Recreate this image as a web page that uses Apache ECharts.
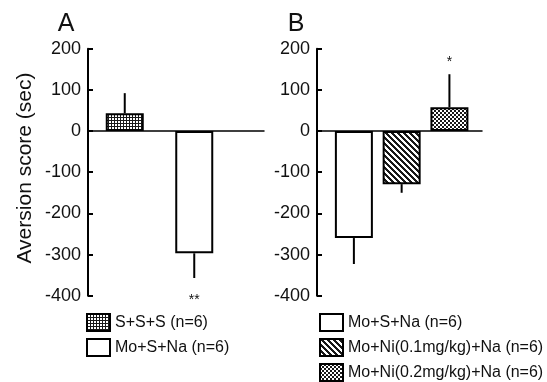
<!DOCTYPE html>
<html><head><meta charset="utf-8">
<script src="https://cdn.jsdelivr.net/npm/echarts@6/dist/echarts.min.js"></script>
<style>html,body{margin:0;padding:0;background:#fff}#c{width:547px;height:382px}</style>
</head><body><div id="c"></div>
<script>
// ---- data ----
const groupsA = ['S+S+S (n=6)', 'Mo+S+Na (n=6)'];
const meansA = [43, -297];
const semA = [49, 60];
const sigA = ['', '**'];
const groupsB = ['Mo+S+Na (n=6)', 'Mo+Ni(0.1mg/kg)+Na (n=6)', 'Mo+Ni(0.2mg/kg)+Na (n=6)'];
const meansB = [-260, -129, 58];
const semB = [63, 21, 80];
const sigB = ['', '', '*'];
const yMin = -400, yMax = 200, yStep = 100;
const panelLabels = ['A', 'B'];
const yTitle = 'Aversion score (sec)';

// ---- styles ----
const FONT = 'Liberation Sans, Arial, Helvetica, sans-serif';
function pattern(fn, w, h) {
  const c = document.createElement('canvas');
  c.width = w; c.height = h;
  const ctx = c.getContext('2d');
  const img = ctx.createImageData(w, h);
  for (let y = 0; y < h; y++) for (let x = 0; x < w; x++) {
    const v = fn(x, y) ? 25 : 255;
    const k = (y * w + x) * 4;
    img.data[k] = v; img.data[k + 1] = v; img.data[k + 2] = v; img.data[k + 3] = 255;
  }
  ctx.putImageData(img, 0, 0);
  return { image: c, repeat: 'repeat' };
}
const gridPat = pattern((x, y) => x === 0 || y === 0, 3, 3);
const stripePat = pattern((x, y) => ((x - y + 12) % 6) < 3, 6, 6);
const checkPat = pattern((x, y) => ((Math.floor(x / 2) + Math.floor(y / 2)) % 2) === 0, 4, 4);
const fillsA = [gridPat, '#ffffff'];
const fillsB = ['#ffffff', stripePat, checkPat];

const frameY = (show) => ({
  type: 'value', min: yMin, max: yMax, interval: yStep, show: show,
  axisLine: { show: true, lineStyle: { color: '#000', width: 2 } },
  axisTick: { show: true, inside: true, length: 5, lineStyle: { color: '#000', width: 2 } },
  axisLabel: { show: true, margin: 7, fontSize: 18, color: '#111', fontFamily: FONT },
  splitLine: { show: false }
});
const frameX = (gi) => ({
  type: 'value', min: 0, max: 1, gridIndex: gi,
  axisLine: { show: true, onZero: true, lineStyle: { color: '#000', width: 1.5 } },
  axisTick: { show: false }, axisLabel: { show: false }, splitLine: { show: false }
});
const barX = (gi, cats) => ({ type: 'category', data: cats, gridIndex: gi, show: false });
const barY = (gi) => Object.assign(frameY(false), { gridIndex: gi });

function barSeries(groups, means, fills, axis) {
  return groups.map((name, i) => ({
    type: 'bar', name: name, xAxisIndex: axis, yAxisIndex: axis,
    data: means.map((v, j) => (j === i ? v : '-')),
    barWidth: 38, barGap: '-100%', silent: true,
    itemStyle: { color: fills[i], borderColor: '#000', borderWidth: 2 }
  }));
}
function errSeries(means, sems, sigs, axis) {
  return {
    type: 'custom', xAxisIndex: axis, yAxisIndex: axis, silent: true, z: 5,
    data: means.map((m, i) => [i, m, m + Math.sign(m) * sems[i]]),
    renderItem: function (params, api) {
      const i = params.dataIndex;
      const x = api.value(0);
      const p0 = api.coord([x, api.value(1)]);
      const p1 = api.coord([x, api.value(2)]);
      const up = api.value(2) > api.value(1);
      const children = [{
        type: 'line', shape: { x1: p0[0], y1: p0[1], x2: p1[0], y2: p1[1] },
        style: { stroke: '#000', lineWidth: 2 }
      }];
      if (sigs[i]) {
        children.push({
          type: 'text',
          style: { text: sigs[i], x: p1[0], y: up ? p1[1] - 12 : p1[1] + 22, align: 'center', verticalAlign: 'middle',
                   fontSize: 14, fill: '#111', fontFamily: FONT }
        });
      }
      return { type: 'group', children: children };
    }
  };
}

const chart = echarts.init(document.getElementById('c'), null, { renderer: 'canvas' });
const gridTop = 48.7, gridH = 247;
const legendBase = { orient: 'vertical', top: 313, height: 80, padding: 0, itemWidth: 23, itemHeight: 17, itemGap: 6, icon: 'rect',
  selectedMode: false, textStyle: { fontSize: 16, lineHeight: 17, color: '#111', fontFamily: FONT } };
chart.setOption({
  animation: false,
  backgroundColor: '#fff',
  grid: [
    { left: 88, top: gridTop, width: 176, height: gridH },
    { left: 90, top: gridTop, width: 139, height: gridH },
    { left: 317, top: gridTop, width: 165, height: gridH },
    { left: 330, top: gridTop, width: 143.3, height: gridH }
  ],
  xAxis: [frameX(0), barX(1, groupsA), frameX(2), barX(3, groupsB)],
  yAxis: [
    Object.assign(frameY(true), { gridIndex: 0 }),
    barY(1),
    Object.assign(frameY(true), { gridIndex: 2 }),
    barY(3)
  ],
  legend: [
    Object.assign({}, legendBase, { left: 86, data: groupsA }),
    Object.assign({}, legendBase, { left: 319, data: groupsB })
  ],
  graphic: [
    { type: 'text', x: 66, y: 24, style: { text: panelLabels[0], fontSize: 25, fill: '#111', fontFamily: FONT, align: 'center', verticalAlign: 'middle' } },
    { type: 'text', x: 296, y: 24, style: { text: panelLabels[1], fontSize: 25, fill: '#111', fontFamily: FONT, align: 'center', verticalAlign: 'middle' } },
    { type: 'text', x: 25, y: 168, rotation: Math.PI / 2, style: { text: yTitle, fontSize: 21, fill: '#111', fontFamily: FONT, align: 'center', verticalAlign: 'middle' } }
  ],
  series: [].concat(
    barSeries(groupsA, meansA, fillsA, 1),
    [errSeries(meansA, semA, sigA, 1)],
    barSeries(groupsB, meansB, fillsB, 3),
    [errSeries(meansB, semB, sigB, 3)]
  )
});
</script>
</body></html>
